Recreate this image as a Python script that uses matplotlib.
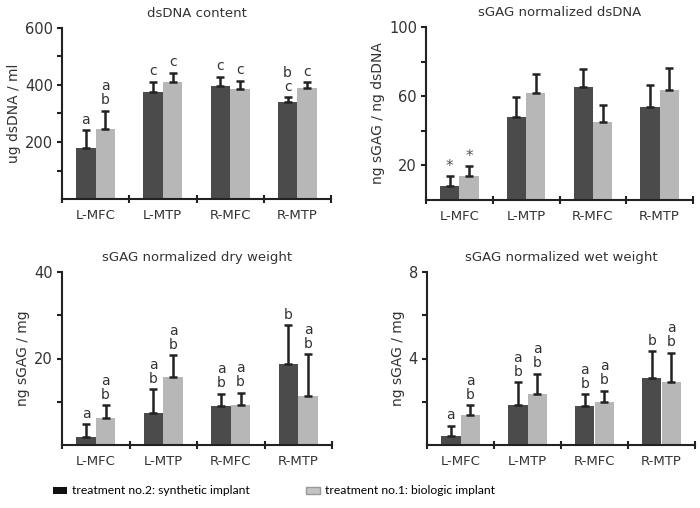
import matplotlib
matplotlib.use("Agg")
import matplotlib.pyplot as plt
from matplotlib import font_manager
import numpy as np
from matplotlib.patches import Patch

categories = ["L-MFC", "L-MTP", "R-MFC", "R-MTP"]
series_names = ["treatment no.2: synthetic implant", "treatment no.1: biologic implant"]

# Panel 1: dsDNA content
dna_syn = [178, 375, 397, 340]
dna_syn_err = [63, 37, 32, 17]
dna_bio = [247, 411, 387, 390]
dna_bio_err = [63, 32, 28, 19]
dna_syn_lbl = ["a", "c", "c", "b\nc"]
dna_bio_lbl = ["a\nb", "c", "c", "c"]

# Panel 2: sGAG normalized dsDNA
gdna_syn = [7.9, 47.9, 65.4, 53.7]
gdna_syn_err = [5.7, 11.9, 10.2, 12.5]
gdna_bio = [14.0, 62.1, 45.0, 63.3]
gdna_bio_err = [5.4, 10.9, 10.2, 13.2]
gdna_syn_lbl = ["*", "", "", ""]
gdna_bio_lbl = ["*", "", "", ""]

# Panel 3: sGAG normalized dry weight
dry_syn = [1.9, 7.5, 9.1, 18.8]
dry_syn_err = [2.9, 5.4, 2.7, 8.9]
dry_bio = [6.3, 15.7, 9.2, 11.4]
dry_bio_err = [2.9, 5.1, 2.9, 9.6]
dry_syn_lbl = ["a", "a\nb", "a\nb", "b"]
dry_bio_lbl = ["a\nb", "a\nb", "a\nb", "a\nb"]

# Panel 4: sGAG normalized wet weight
wet_syn = [0.42, 1.85, 1.82, 3.12]
wet_syn_err = [0.48, 1.05, 0.53, 1.22]
wet_bio = [1.38, 2.34, 2.0, 2.9]
wet_bio_err = [0.47, 0.96, 0.5, 1.36]
wet_syn_lbl = ["a", "a\nb", "a\nb", "b"]
wet_bio_lbl = ["a\nb", "a\nb", "a\nb", "a\nb"]

panels = [
    dict(title="dsDNA content", ylabel="ug dsDNA / ml",
         syn=dna_syn, syn_err=dna_syn_err, bio=dna_bio, bio_err=dna_bio_err,
         syn_lbl=dna_syn_lbl, bio_lbl=dna_bio_lbl,
         yticks=[100, 200, 300, 400, 500, 600], yticklabels=["", "200", "", "400", "", "600"],
         ymax=600, pos=[62, 28, 331, 199]),
    dict(title="sGAG normalized dsDNA", ylabel="ng sGAG / ng dsDNA",
         syn=gdna_syn, syn_err=gdna_syn_err, bio=gdna_bio, bio_err=gdna_bio_err,
         syn_lbl=gdna_syn_lbl, bio_lbl=gdna_bio_lbl,
         yticks=[20, 40, 60, 80, 100], yticklabels=["20", "", "60", "", "100"],
         ymax=100, pos=[426, 27, 693, 200]),
    dict(title="sGAG normalized dry weight", ylabel="ng sGAG / mg",
         syn=dry_syn, syn_err=dry_syn_err, bio=dry_bio, bio_err=dry_bio_err,
         syn_lbl=dry_syn_lbl, bio_lbl=dry_bio_lbl,
         yticks=[10, 20, 30, 40], yticklabels=["", "20", "", "40"],
         ymax=40, pos=[62, 272, 332, 445]),
    dict(title="sGAG normalized wet weight", ylabel="ng sGAG / mg",
         syn=wet_syn, syn_err=wet_syn_err, bio=wet_bio, bio_err=wet_bio_err,
         syn_lbl=wet_syn_lbl, bio_lbl=wet_bio_lbl,
         yticks=[2, 4, 6, 8], yticklabels=["", "4", "", "8"],
         ymax=8, pos=[427, 272, 695, 445]),
]

W, H = 700, 508
fig = plt.figure(figsize=(W / 100, H / 100), dpi=100)
fig.patch.set_facecolor("white")

dark = "#4b4b4b"
light = "#b7b7b7"
ink = "#222222"
txt = "#333333"
FS = 9.5

bw = 0.29
x = np.arange(len(categories)) + 0.5

for p in panels:
    l, t, r, b = p["pos"]
    ax = fig.add_axes([l / W, 1 - b / H, (r - l) / W, (b - t) / H])
    ax.bar(x - bw / 2, p["syn"], bw, color=dark, zorder=2)
    ax.bar(x + bw / 2, p["bio"], bw, color=light, zorder=2)
    for xs, vals, errs in [(x - bw / 2, p["syn"], p["syn_err"]), (x + bw / 2, p["bio"], p["bio_err"])]:
        ax.errorbar(xs, vals, yerr=[np.zeros(len(vals)), errs], fmt="none",
                    ecolor=ink, elinewidth=1.8, capsize=2.6, capthick=1.8, zorder=3)
    for xs, vals, errs, lbls in [(x - bw / 2, p["syn"], p["syn_err"], p["syn_lbl"]),
                                 (x + bw / 2, p["bio"], p["bio_err"], p["bio_lbl"])]:
        for xi, v, e, s in zip(xs, vals, errs, lbls):
            if not s:
                continue
            if s == "*":
                ax.annotate(s, (xi, v + e), xytext=(0, 2), textcoords="offset points",
                            ha="center", va="bottom", fontsize=11, color="#555555")
            else:
                ax.annotate(s, (xi, v + e), xytext=(0, 2.5), textcoords="offset points",
                            ha="center", va="bottom", fontsize=FS + 0.5, color=txt,
                            linespacing=1.0)
    ax.set_xlim(0, len(categories))
    ax.set_ylim(0, p["ymax"])
    ax.set_xticks(np.arange(len(categories) + 1))
    ax.set_xticklabels([])
    ax.set_xticks(x, minor=True)
    ax.set_xticklabels(categories, minor=True)
    ax.tick_params(axis="x", which="major", direction="inout", length=6, width=1.5, color=ink)
    ax.tick_params(axis="x", which="minor", length=0, pad=7, labelsize=FS, labelcolor=txt)
    ax.set_yticks(p["yticks"])
    ax.set_yticklabels(p["yticklabels"])
    ax.tick_params(axis="y", direction="out", length=3.5, width=1.5, color=ink,
                   labelsize=FS + 1, labelcolor=txt, pad=3)
    for side in ["top", "right"]:
        ax.spines[side].set_visible(False)
    for side in ["left", "bottom"]:
        ax.spines[side].set_color(ink)
        ax.spines[side].set_linewidth(1.5)
    ax.set_title(p["title"], fontsize=FS, color=txt, pad=8)
    ax.set_ylabel(p["ylabel"], fontsize=FS + 0.5, color=txt, labelpad=3)

available = {f.name for f in font_manager.fontManager.ttflist}
leg_family = "Liberation Sans Narrow" if "Liberation Sans Narrow" in available else "Lato"
leg_size = 10 if leg_family == "Liberation Sans Narrow" else 8.7

handles = [Patch(facecolor="#111111", edgecolor="none"), Patch(facecolor="#c4c4c4", edgecolor="#999999")]
fig.legend(handles, series_names, loc="center left", bbox_to_anchor=(42 / W, 1 - 491 / H),
           ncol=2, frameon=False, handlelength=1.2, handleheight=0.5,
           handletextpad=0.4, columnspacing=4.6,
           prop={"family": leg_family, "size": leg_size})

fig.savefig("out.png", dpi=100, facecolor="white")
